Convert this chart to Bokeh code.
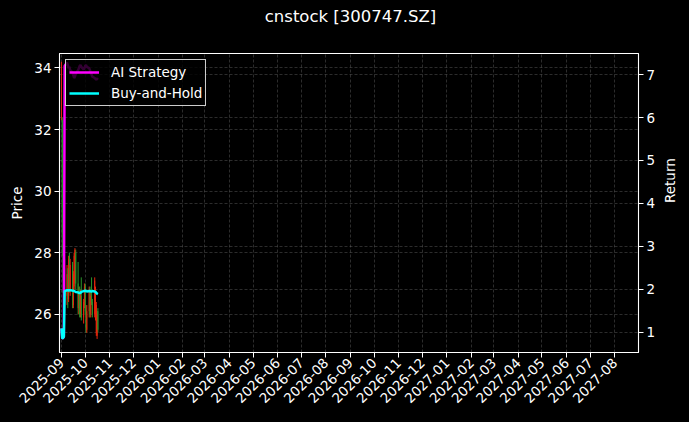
import math
import pandas as pd
from bokeh.plotting import figure
from bokeh.layouts import column
from bokeh.models import (Range1d, LinearAxis, FixedTicker, DatetimeTickFormatter,
                          Grid, Legend, LegendItem, ColumnDataSource, Div)
from bokeh.embed import file_html
from bokeh.resources import INLINE

# ---------------- data ----------------
dates = ["2025-09-01", "2025-09-02", "2025-09-03", "2025-09-04", "2025-09-05",
         "2025-09-08", "2025-09-09", "2025-09-10", "2025-09-11", "2025-09-12",
         "2025-09-15", "2025-09-16", "2025-09-17", "2025-09-18", "2025-09-19",
         "2025-09-22", "2025-09-23", "2025-09-24", "2025-09-25", "2025-09-26",
         "2025-09-29", "2025-09-30", "2025-10-01", "2025-10-02", "2025-10-03",
         "2025-10-06", "2025-10-07", "2025-10-08", "2025-10-09", "2025-10-10",
         "2025-10-13", "2025-10-14", "2025-10-15", "2025-10-16", "2025-10-17"]

price_open = [32.40, 32.30, 28.40, 27.00, 27.50, 26.60, 27.30, 26.50, 27.90, 26.80,
              27.60, 26.30, 26.90, 27.10, 28.00, 27.00, 26.20, 26.70, 26.00, 26.60,
              25.90, 26.30, 26.90, 26.10, 25.50, 26.10, 26.80, 26.00, 26.60, 26.40,
              26.00, 25.90, 25.40, 25.30, 26.10]
price_high = [34.20, 32.40, 28.60, 27.90, 27.80, 27.60, 27.50, 27.90, 28.00, 27.80,
              27.70, 27.40, 28.00, 28.15, 28.10, 27.70, 26.90, 26.90, 26.80, 27.20,
              26.50, 27.00, 27.00, 26.30, 26.30, 26.90, 26.90, 26.70, 27.20, 26.50,
              27.20, 26.90, 26.40, 26.10, 26.20]
price_low = [32.30, 27.90, 26.70, 26.60, 26.40, 26.30, 26.20, 26.40, 26.70, 26.60,
             26.20, 26.20, 26.80, 27.00, 26.80, 26.00, 26.00, 25.90, 25.90, 25.80,
             25.70, 26.20, 26.00, 25.40, 25.40, 25.90, 25.90, 25.90, 26.30, 25.90,
             25.90, 25.80, 25.30, 25.20, 25.40]
price_close = [34.10, 28.60, 27.10, 27.60, 26.70, 27.30, 26.50, 27.80, 26.80, 27.60,
               26.30, 27.30, 27.90, 28.10, 27.00, 26.20, 26.70, 26.00, 26.60, 25.90,
               26.40, 26.90, 26.10, 25.50, 26.10, 26.80, 26.00, 26.60, 26.40, 26.00,
               27.10, 26.80, 26.30, 26.00, 25.50]

ai_strategy = [1.09, 0.86, 0.87, 0.90, 7.20, 7.28, 7.22, 7.15, 7.18, 7.10,
               7.05, 6.98, 6.92, 6.95, 7.02, 7.10, 7.15, 7.20, 7.22, 7.18,
               7.12, 7.15, 7.20, 7.22, 7.18, 7.15, 7.10, 7.05, 7.00, 6.95,
               6.92, 6.90, 6.88, 6.90, 6.92]
buy_and_hold = [1.09, 0.86, 0.87, 0.90, 1.96, 1.98, 1.98, 1.97, 1.98, 1.98,
                1.97, 1.97, 1.96, 1.95, 1.94, 1.93, 1.92, 1.91, 1.92, 1.94,
                1.96, 1.96, 1.97, 1.96, 1.95, 1.96, 1.96, 1.95, 1.95, 1.96,
                1.95, 1.94, 1.92, 1.90, 1.89]

month_ticks = ["2025-09", "2025-10", "2025-11", "2025-12", "2026-01", "2026-02",
               "2026-03", "2026-04", "2026-05", "2026-06", "2026-07", "2026-08",
               "2026-09", "2026-10", "2026-11", "2026-12", "2027-01", "2027-02",
               "2027-03", "2027-04", "2027-05", "2027-06", "2027-07", "2027-08"]
price_ticks = [26, 28, 30, 32, 34]
return_ticks = [1, 2, 3, 4, 5, 6, 7]

title_text = "cnstock [300747.SZ]"
FONT = "DejaVu Sans"

# ---------------- build ----------------
x = pd.to_datetime(dates)
up = [c >= o for o, c in zip(price_open, price_close)]
colors = ["#e8260c" if u else "#27952a" for u in up]
src = ColumnDataSource(dict(
    x=x, o=price_open, h=price_high, l=price_low, c=price_close,
    top=[max(a, b) for a, b in zip(price_open, price_close)],
    bottom=[min(a, b) for a, b in zip(price_open, price_close)],
    color=colors))

x_start = pd.Timestamp("2025-08-29 12:00")
x_end = pd.Timestamp("2027-08-31 00:00")
y_lo, y_hi = 24.76, 34.47

TITLE_H = 34
p = figure(width=689, height=422 - TITLE_H, x_axis_type="datetime",
           x_range=Range1d(x_start, x_end), y_range=Range1d(y_lo, y_hi),
           output_backend="svg", toolbar_location=None,
           min_border_left=59, min_border_right=47, min_border_top=53 - TITLE_H,
           min_border_bottom=70)
p.extra_y_ranges = {"ret": Range1d(0.53, 7.49)}

p.background_fill_color = "black"
p.border_fill_color = "black"
p.outline_line_color = "white"
p.outline_line_width = 1.1

title_div = Div(text=title_text, width=677, height=TITLE_H, margin=(0, 0, 0, 12),
                styles={"color": "white", "font-family": FONT, "font-size": "16.5px",
                        "text-align": "center", "line-height": f"{TITLE_H}px",
                        "background-color": "black"})

# candles
day_ms = 86400000
p.segment(x0="x", y0="h", x1="x", y1="l", color="color", line_width=1, source=src)
p.vbar(x="x", width=1.2 * day_ms, top="top", bottom="bottom",
       fill_color="color", line_color=None, source=src)

# lines
r_ai = p.line(x, ai_strategy, y_range_name="ret", line_color="#ff00ff", line_width=2.5)
r_bh = p.line(x, buy_and_hold, y_range_name="ret", line_color="#00ffff", line_width=2.5)

# axes
month_ms = [int(pd.Timestamp(m + "-01").timestamp() * 1000) for m in month_ticks]
xt = FixedTicker(ticks=month_ms)
fmt = "%Y-%m"
xa = p.xaxis[0]
xa.ticker = xt
xa.formatter = DatetimeTickFormatter(milliseconds=fmt, seconds=fmt, minsec=fmt, minutes=fmt,
                                     hourmin=fmt, hours=fmt, days=fmt, months=fmt, years=fmt)
xa.major_label_orientation = math.pi / 4

ya = p.yaxis[0]
ya.ticker = FixedTicker(ticks=price_ticks)
ya.axis_label = "Price"

ra = LinearAxis(y_range_name="ret", ticker=FixedTicker(ticks=return_ticks), axis_label="Return")
ra.axis_label_orientation = math.pi / 2
p.add_layout(ra, "right")

for ax in (xa, ya, ra):
    ax.axis_line_color = "white"
    ax.major_tick_line_color = "white"
    ax.minor_tick_line_color = None
    ax.major_tick_out = 5
    ax.major_tick_in = 0
    ax.major_label_text_color = "white"
    ax.major_label_text_font = FONT
    ax.major_label_text_font_size = "13.5px"
    ax.major_label_standoff = 3
    ax.axis_label_text_color = "white"
    ax.axis_label_text_font = FONT
    ax.axis_label_text_font_size = "13.5px"
    ax.axis_label_text_font_style = "normal"
ya.axis_label_standoff = 6
ra.axis_label_standoff = 12

# grids
grid_kw = dict(grid_line_color="#8c8c8c", grid_line_alpha=0.45, grid_line_dash="3 2",
               grid_line_width=0.7)
p.xgrid.ticker = xt
p.ygrid.ticker = FixedTicker(ticks=price_ticks)
for g in (p.xgrid[0], p.ygrid[0]):
    for k, v in grid_kw.items():
        setattr(g, k, v)
g2 = Grid(dimension=1, ticker=FixedTicker(ticks=return_ticks), y_range_name="ret", **grid_kw)
p.add_layout(g2)

legend = Legend(items=[LegendItem(label="AI Strategy", renderers=[r_ai]),
                       LegendItem(label="Buy-and-Hold", renderers=[r_bh])],
                location="top_left")
legend.margin = 6
legend.padding = 3
legend.spacing = 3
legend.glyph_width = 30
legend.glyph_height = 18
legend.label_height = 18
legend.label_standoff = 12
legend.background_fill_color = "black"
legend.background_fill_alpha = 0.8
legend.border_line_color = "white"
legend.border_line_alpha = 0.8
legend.label_text_color = "white"
legend.label_text_font = FONT
legend.label_text_font_size = "13.5px"
p.add_layout(legend)

layout = column(title_div, p, spacing=0, margin=0, background="black")

html = file_html(layout, INLINE)
html = html.replace("<head>", "<head><style>html,body{background:#000;}</style>", 1)
open("out.html", "w").write(html)
